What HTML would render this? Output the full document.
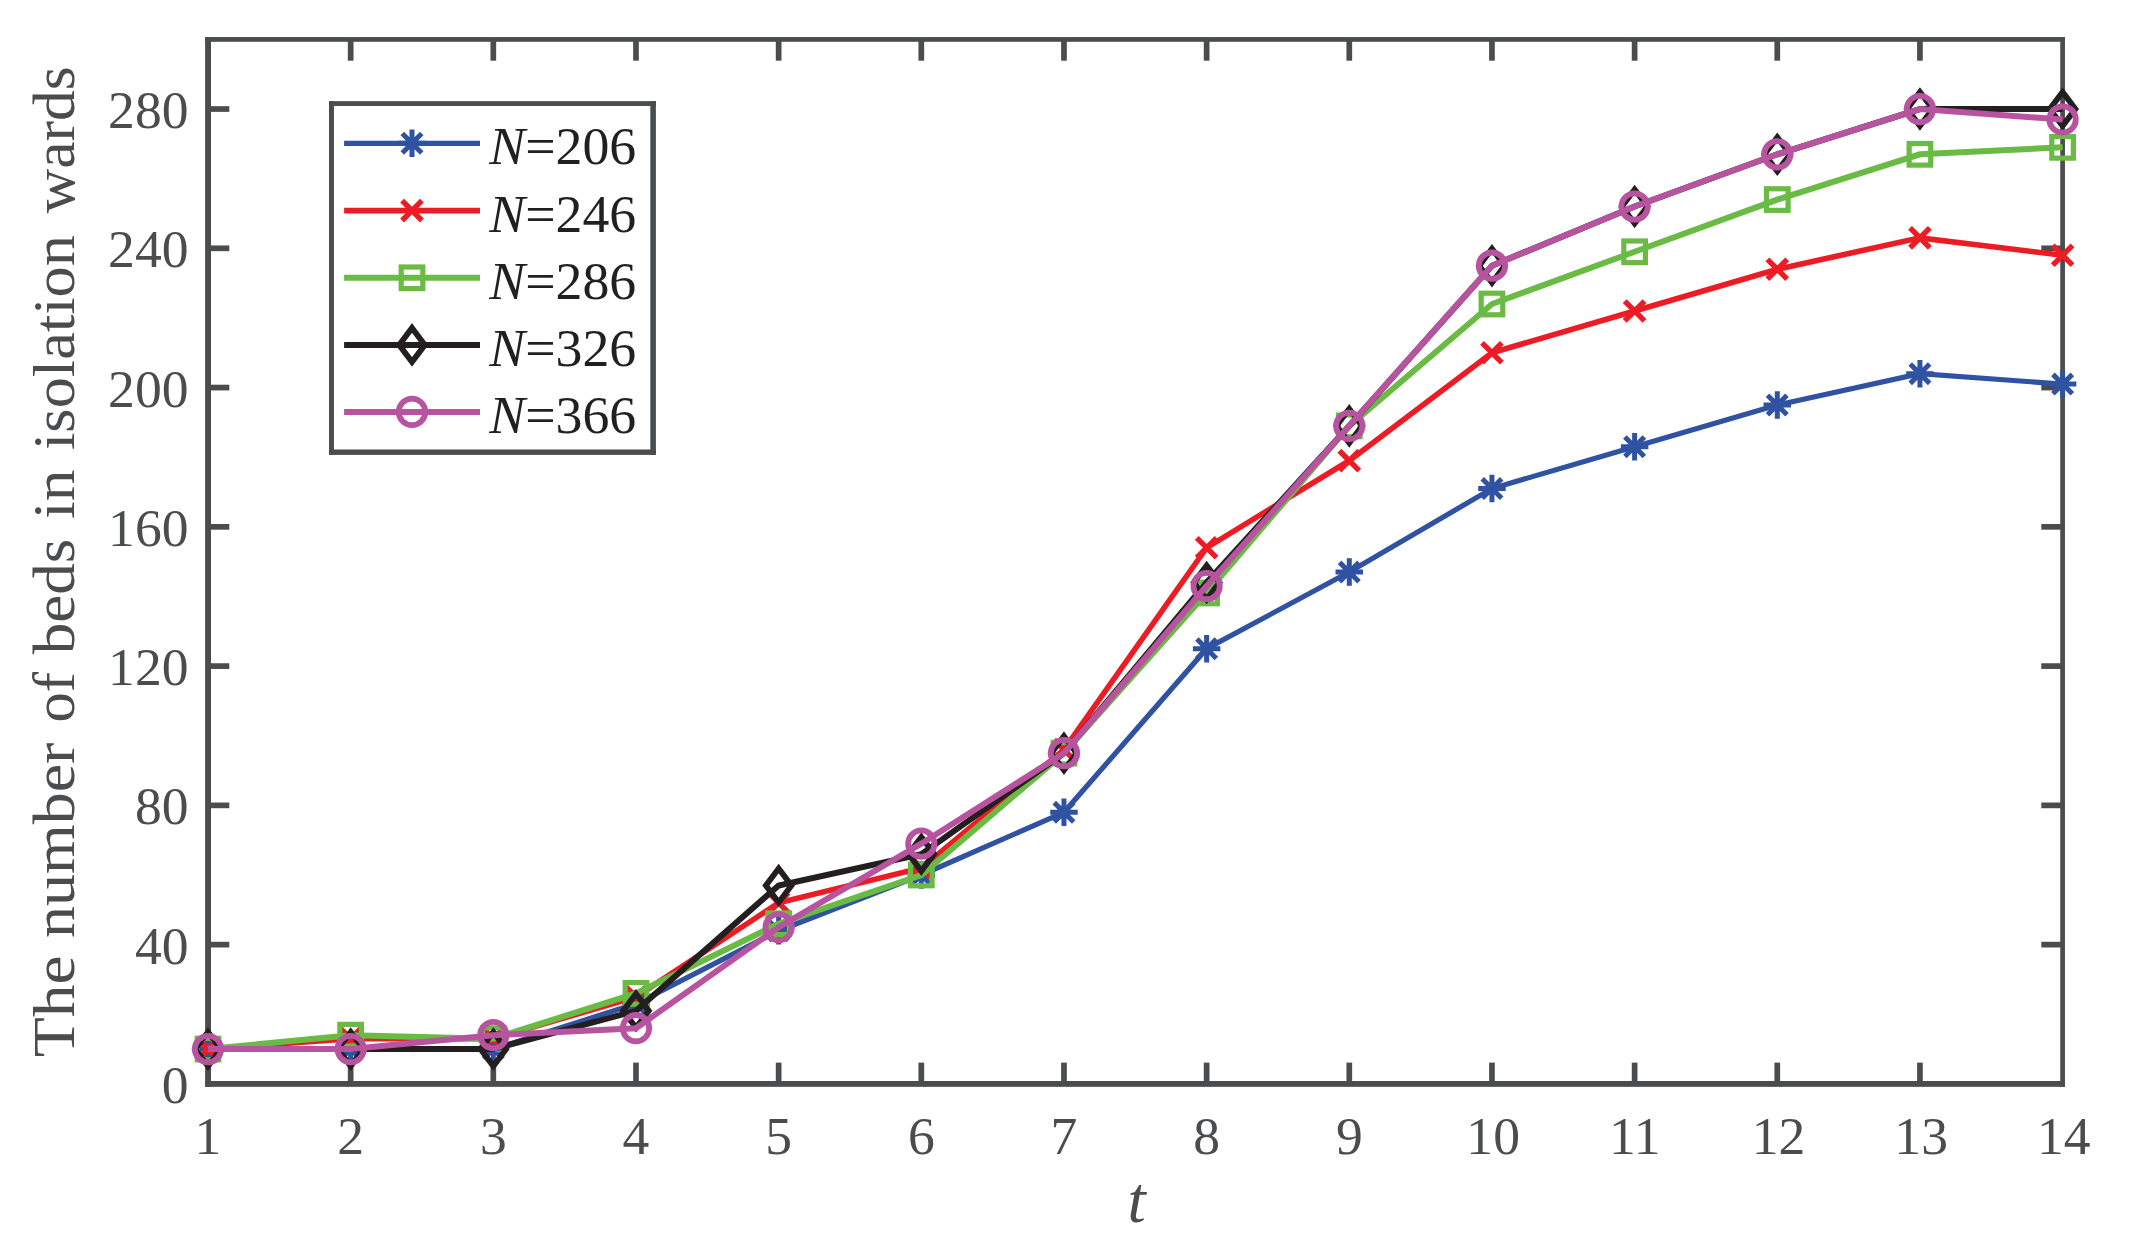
<!DOCTYPE html>
<html><head><meta charset="utf-8"><title>Beds in isolation wards</title>
<style>html,body{margin:0;padding:0;background:#fff}svg{display:block}text{font-family:"Liberation Serif","Times New Roman",serif}</style></head><body>
<svg width="2133" height="1249" viewBox="0 0 2133 1249">
<rect width="2133" height="1249" fill="#fff"/>
<g fill="#4b4c4e">
<rect x="205.1" y="37.05" width="1859.85" height="4.75"/>
<rect x="2060.25" y="37.05" width="4.7" height="1049.80"/>
<rect x="205.1" y="37.05" width="5.9" height="1049.80"/>
<rect x="205.1" y="1081.0" width="1859.85" height="5.85"/>
<rect x="347.81" y="1062.60" width="5.7" height="21.3"/>
<rect x="347.81" y="39.40" width="5.7" height="21.3"/>
<rect x="490.47" y="1062.60" width="5.7" height="21.3"/>
<rect x="490.47" y="39.40" width="5.7" height="21.3"/>
<rect x="633.13" y="1062.60" width="5.7" height="21.3"/>
<rect x="633.13" y="39.40" width="5.7" height="21.3"/>
<rect x="775.80" y="1062.60" width="5.7" height="21.3"/>
<rect x="775.80" y="39.40" width="5.7" height="21.3"/>
<rect x="918.46" y="1062.60" width="5.7" height="21.3"/>
<rect x="918.46" y="39.40" width="5.7" height="21.3"/>
<rect x="1061.12" y="1062.60" width="5.7" height="21.3"/>
<rect x="1061.12" y="39.40" width="5.7" height="21.3"/>
<rect x="1203.78" y="1062.60" width="5.7" height="21.3"/>
<rect x="1203.78" y="39.40" width="5.7" height="21.3"/>
<rect x="1346.44" y="1062.60" width="5.7" height="21.3"/>
<rect x="1346.44" y="39.40" width="5.7" height="21.3"/>
<rect x="1489.10" y="1062.60" width="5.7" height="21.3"/>
<rect x="1489.10" y="39.40" width="5.7" height="21.3"/>
<rect x="1631.77" y="1062.60" width="5.7" height="21.3"/>
<rect x="1631.77" y="39.40" width="5.7" height="21.3"/>
<rect x="1774.43" y="1062.60" width="5.7" height="21.3"/>
<rect x="1774.43" y="39.40" width="5.7" height="21.3"/>
<rect x="1917.09" y="1062.60" width="5.7" height="21.3"/>
<rect x="1917.09" y="39.40" width="5.7" height="21.3"/>
<rect x="208.00" y="941.78" width="21.3" height="5.7"/>
<rect x="2041.30" y="941.78" width="21.3" height="5.7"/>
<rect x="208.00" y="802.52" width="21.3" height="5.7"/>
<rect x="2041.30" y="802.52" width="21.3" height="5.7"/>
<rect x="208.00" y="663.25" width="21.3" height="5.7"/>
<rect x="2041.30" y="663.25" width="21.3" height="5.7"/>
<rect x="208.00" y="523.98" width="21.3" height="5.7"/>
<rect x="2041.30" y="523.98" width="21.3" height="5.7"/>
<rect x="208.00" y="384.72" width="21.3" height="5.7"/>
<rect x="2041.30" y="384.72" width="21.3" height="5.7"/>
<rect x="208.00" y="245.45" width="21.3" height="5.7"/>
<rect x="2041.30" y="245.45" width="21.3" height="5.7"/>
<rect x="208.00" y="106.18" width="21.3" height="5.7"/>
<rect x="2041.30" y="106.18" width="21.3" height="5.7"/>
</g>
<g fill="#4b4c4e" font-size="53.6">
<text x="208.00" y="1154.0" text-anchor="middle">1</text>
<text x="350.66" y="1154.0" text-anchor="middle">2</text>
<text x="493.32" y="1154.0" text-anchor="middle">3</text>
<text x="635.98" y="1154.0" text-anchor="middle">4</text>
<text x="778.65" y="1154.0" text-anchor="middle">5</text>
<text x="921.31" y="1154.0" text-anchor="middle">6</text>
<text x="1063.97" y="1154.0" text-anchor="middle">7</text>
<text x="1206.63" y="1154.0" text-anchor="middle">8</text>
<text x="1349.29" y="1154.0" text-anchor="middle">9</text>
<text x="1466.35" y="1154.0">10</text>
<text x="1609.02" y="1154.0">11</text>
<text x="1751.68" y="1154.0">12</text>
<text x="1894.34" y="1154.0">13</text>
<text x="2037.00" y="1154.0">14</text>
<text x="188.5" y="1103.00" text-anchor="end">0</text>
<text x="188.5" y="963.73" text-anchor="end">40</text>
<text x="188.5" y="824.47" text-anchor="end">80</text>
<text x="188.5" y="685.20" text-anchor="end">120</text>
<text x="188.5" y="545.93" text-anchor="end">160</text>
<text x="188.5" y="406.67" text-anchor="end">200</text>
<text x="188.5" y="267.40" text-anchor="end">240</text>
<text x="188.5" y="128.13" text-anchor="end">280</text>
</g>
<text x="1136.5" y="1222" text-anchor="middle" font-size="65.5" font-style="italic" fill="#4b4c4e">t</text>
<g fill="#4b4c4e" font-size="60" transform="translate(73.8 0) rotate(-90)">
<text x="-1057.2" y="0" textLength="101.8" lengthAdjust="spacingAndGlyphs">The</text>
<text x="-938.0" y="0" textLength="195.4" lengthAdjust="spacingAndGlyphs">number</text>
<text x="-722.4" y="0" textLength="50.4" lengthAdjust="spacingAndGlyphs">of</text>
<text x="-654.2" y="0" textLength="115.6" lengthAdjust="spacingAndGlyphs">beds</text>
<text x="-519.0" y="0" textLength="49.4" lengthAdjust="spacingAndGlyphs">in</text>
<text x="-450.0" y="0" textLength="215.0" lengthAdjust="spacingAndGlyphs">isolation</text>
<text x="-213.2" y="0" textLength="147.0" lengthAdjust="spacingAndGlyphs">wards</text>
</g>
<polyline points="208.00,1049.08 350.66,1049.08 493.32,1049.08 635.98,1003.82 778.65,930.71 921.31,875.00 1063.97,812.33 1206.63,648.69 1349.29,572.10 1491.95,488.54 1634.62,446.76 1777.28,404.98 1919.94,373.64 2062.60,384.09" fill="none" stroke="#2f52a3" stroke-width="5.2" stroke-linejoin="miter"/>
<path d="M194.25 1049.08H221.75M208.00 1035.33V1062.83M198.28 1039.36L217.72 1058.81M198.28 1058.81L217.72 1039.36" stroke="#2f52a3" stroke-width="5" fill="none"/>
<path d="M336.91 1049.08H364.41M350.66 1035.33V1062.83M340.94 1039.36L360.38 1058.81M340.94 1058.81L360.38 1039.36" stroke="#2f52a3" stroke-width="5" fill="none"/>
<path d="M479.57 1049.08H507.07M493.32 1035.33V1062.83M483.60 1039.36L503.05 1058.81M483.60 1058.81L503.05 1039.36" stroke="#2f52a3" stroke-width="5" fill="none"/>
<path d="M622.23 1003.82H649.73M635.98 990.07V1017.57M626.26 994.10L645.71 1013.54M626.26 1013.54L645.71 994.10" stroke="#2f52a3" stroke-width="5" fill="none"/>
<path d="M764.90 930.71H792.40M778.65 916.96V944.46M768.92 920.98L788.37 940.43M768.92 940.43L788.37 920.98" stroke="#2f52a3" stroke-width="5" fill="none"/>
<path d="M907.56 875.00H935.06M921.31 861.25V888.75M911.59 865.28L931.03 884.72M911.59 884.72L931.03 865.28" stroke="#2f52a3" stroke-width="5" fill="none"/>
<path d="M1050.22 812.33H1077.72M1063.97 798.58V826.08M1054.25 802.61L1073.69 822.05M1054.25 822.05L1073.69 802.61" stroke="#2f52a3" stroke-width="5" fill="none"/>
<path d="M1192.88 648.69H1220.38M1206.63 634.94V662.44M1196.91 638.97L1216.35 658.41M1196.91 658.41L1216.35 638.97" stroke="#2f52a3" stroke-width="5" fill="none"/>
<path d="M1335.54 572.10H1363.04M1349.29 558.35V585.85M1339.57 562.37L1359.01 581.82M1339.57 581.82L1359.01 562.37" stroke="#2f52a3" stroke-width="5" fill="none"/>
<path d="M1478.20 488.54H1505.70M1491.95 474.79V502.29M1482.23 478.81L1501.68 498.26M1482.23 498.26L1501.68 478.81" stroke="#2f52a3" stroke-width="5" fill="none"/>
<path d="M1620.87 446.76H1648.37M1634.62 433.01V460.51M1624.89 437.03L1644.34 456.48M1624.89 456.48L1644.34 437.03" stroke="#2f52a3" stroke-width="5" fill="none"/>
<path d="M1763.53 404.98H1791.03M1777.28 391.23V418.73M1767.55 395.25L1787.00 414.70M1767.55 414.70L1787.00 395.25" stroke="#2f52a3" stroke-width="5" fill="none"/>
<path d="M1906.19 373.64H1933.69M1919.94 359.89V387.39M1910.22 363.92L1929.66 383.36M1910.22 383.36L1929.66 363.92" stroke="#2f52a3" stroke-width="5" fill="none"/>
<path d="M2048.85 384.09H2076.35M2062.60 370.34V397.84M2052.88 374.36L2072.32 393.81M2052.88 393.81L2072.32 374.36" stroke="#2f52a3" stroke-width="5" fill="none"/>
<polyline points="208.00,1049.08 350.66,1038.64 493.32,1038.64 635.98,996.86 778.65,902.85 921.31,868.04 1063.97,749.66 1206.63,547.72 1349.29,460.68 1491.95,352.75 1634.62,310.97 1777.28,269.19 1919.94,237.86 2062.60,255.26" fill="none" stroke="#ed1c24" stroke-width="5.6" stroke-linejoin="miter"/>
<path d="M198.10 1039.18L217.90 1058.98M198.10 1058.98L217.90 1039.18" stroke="#ed1c24" stroke-width="5.4" fill="none"/>
<path d="M340.76 1028.74L360.56 1048.54M340.76 1048.54L360.56 1028.74" stroke="#ed1c24" stroke-width="5.4" fill="none"/>
<path d="M483.42 1028.74L503.22 1048.54M483.42 1048.54L503.22 1028.74" stroke="#ed1c24" stroke-width="5.4" fill="none"/>
<path d="M626.08 986.96L645.88 1006.76M626.08 1006.76L645.88 986.96" stroke="#ed1c24" stroke-width="5.4" fill="none"/>
<path d="M768.75 892.95L788.55 912.75M768.75 912.75L788.55 892.95" stroke="#ed1c24" stroke-width="5.4" fill="none"/>
<path d="M911.41 858.14L931.21 877.94M911.41 877.94L931.21 858.14" stroke="#ed1c24" stroke-width="5.4" fill="none"/>
<path d="M1054.07 739.76L1073.87 759.56M1054.07 759.56L1073.87 739.76" stroke="#ed1c24" stroke-width="5.4" fill="none"/>
<path d="M1196.73 537.82L1216.53 557.62M1196.73 557.62L1216.53 537.82" stroke="#ed1c24" stroke-width="5.4" fill="none"/>
<path d="M1339.39 450.78L1359.19 470.58M1339.39 470.58L1359.19 450.78" stroke="#ed1c24" stroke-width="5.4" fill="none"/>
<path d="M1482.05 342.85L1501.85 362.65M1482.05 362.65L1501.85 342.85" stroke="#ed1c24" stroke-width="5.4" fill="none"/>
<path d="M1624.72 301.07L1644.52 320.87M1624.72 320.87L1644.52 301.07" stroke="#ed1c24" stroke-width="5.4" fill="none"/>
<path d="M1767.38 259.29L1787.18 279.09M1767.38 279.09L1787.18 259.29" stroke="#ed1c24" stroke-width="5.4" fill="none"/>
<path d="M1910.04 227.96L1929.84 247.76M1910.04 247.76L1929.84 227.96" stroke="#ed1c24" stroke-width="5.4" fill="none"/>
<path d="M2052.70 245.36L2072.50 265.16M2052.70 265.16L2072.50 245.36" stroke="#ed1c24" stroke-width="5.4" fill="none"/>
<polyline points="208.00,1049.08 350.66,1035.16 493.32,1038.64 635.98,993.38 778.65,923.74 921.31,875.00 1063.97,753.14 1206.63,592.99 1349.29,425.87 1491.95,304.01 1634.62,251.78 1777.28,199.56 1919.94,154.30 2062.60,147.33" fill="none" stroke="#6abb44" stroke-width="6.0" stroke-linejoin="miter"/>
<rect x="197.20" y="1038.28" width="21.6" height="21.6" stroke="#6abb44" stroke-width="5.2" fill="none"/>
<rect x="339.86" y="1024.36" width="21.6" height="21.6" stroke="#6abb44" stroke-width="5.2" fill="none"/>
<rect x="482.52" y="1027.84" width="21.6" height="21.6" stroke="#6abb44" stroke-width="5.2" fill="none"/>
<rect x="625.18" y="982.58" width="21.6" height="21.6" stroke="#6abb44" stroke-width="5.2" fill="none"/>
<rect x="767.85" y="912.94" width="21.6" height="21.6" stroke="#6abb44" stroke-width="5.2" fill="none"/>
<rect x="910.51" y="864.20" width="21.6" height="21.6" stroke="#6abb44" stroke-width="5.2" fill="none"/>
<rect x="1053.17" y="742.34" width="21.6" height="21.6" stroke="#6abb44" stroke-width="5.2" fill="none"/>
<rect x="1195.83" y="582.19" width="21.6" height="21.6" stroke="#6abb44" stroke-width="5.2" fill="none"/>
<rect x="1338.49" y="415.07" width="21.6" height="21.6" stroke="#6abb44" stroke-width="5.2" fill="none"/>
<rect x="1481.15" y="293.21" width="21.6" height="21.6" stroke="#6abb44" stroke-width="5.2" fill="none"/>
<rect x="1623.82" y="240.98" width="21.6" height="21.6" stroke="#6abb44" stroke-width="5.2" fill="none"/>
<rect x="1766.48" y="188.76" width="21.6" height="21.6" stroke="#6abb44" stroke-width="5.2" fill="none"/>
<rect x="1909.14" y="143.50" width="21.6" height="21.6" stroke="#6abb44" stroke-width="5.2" fill="none"/>
<rect x="2051.80" y="136.53" width="21.6" height="21.6" stroke="#6abb44" stroke-width="5.2" fill="none"/>
<polyline points="208.00,1049.08 350.66,1049.08 493.32,1049.08 635.98,1010.79 778.65,885.45 921.31,854.11 1063.97,753.14 1206.63,582.54 1349.29,425.87 1491.95,265.71 1634.62,206.52 1777.28,154.30 1919.94,109.03 2062.60,109.03" fill="none" stroke="#231f20" stroke-width="6.0" stroke-linejoin="miter"/>
<path d="M208.00 1032.08L220.80 1049.08L208.00 1066.08L195.20 1049.08Z" stroke="#231f20" stroke-width="5.8" stroke-miterlimit="10" fill="none"/>
<path d="M350.66 1032.08L363.46 1049.08L350.66 1066.08L337.86 1049.08Z" stroke="#231f20" stroke-width="5.8" stroke-miterlimit="10" fill="none"/>
<path d="M493.32 1032.08L506.12 1049.08L493.32 1066.08L480.52 1049.08Z" stroke="#231f20" stroke-width="5.8" stroke-miterlimit="10" fill="none"/>
<path d="M635.98 993.79L648.78 1010.79L635.98 1027.79L623.18 1010.79Z" stroke="#231f20" stroke-width="5.8" stroke-miterlimit="10" fill="none"/>
<path d="M778.65 868.45L791.45 885.45L778.65 902.45L765.85 885.45Z" stroke="#231f20" stroke-width="5.8" stroke-miterlimit="10" fill="none"/>
<path d="M921.31 837.11L934.11 854.11L921.31 871.11L908.51 854.11Z" stroke="#231f20" stroke-width="5.8" stroke-miterlimit="10" fill="none"/>
<path d="M1063.97 736.14L1076.77 753.14L1063.97 770.14L1051.17 753.14Z" stroke="#231f20" stroke-width="5.8" stroke-miterlimit="10" fill="none"/>
<path d="M1206.63 565.54L1219.43 582.54L1206.63 599.54L1193.83 582.54Z" stroke="#231f20" stroke-width="5.8" stroke-miterlimit="10" fill="none"/>
<path d="M1349.29 408.87L1362.09 425.87L1349.29 442.87L1336.49 425.87Z" stroke="#231f20" stroke-width="5.8" stroke-miterlimit="10" fill="none"/>
<path d="M1491.95 248.71L1504.75 265.71L1491.95 282.71L1479.15 265.71Z" stroke="#231f20" stroke-width="5.8" stroke-miterlimit="10" fill="none"/>
<path d="M1634.62 189.52L1647.42 206.52L1634.62 223.52L1621.82 206.52Z" stroke="#231f20" stroke-width="5.8" stroke-miterlimit="10" fill="none"/>
<path d="M1777.28 137.30L1790.08 154.30L1777.28 171.30L1764.48 154.30Z" stroke="#231f20" stroke-width="5.8" stroke-miterlimit="10" fill="none"/>
<path d="M1919.94 92.03L1932.74 109.03L1919.94 126.03L1907.14 109.03Z" stroke="#231f20" stroke-width="5.8" stroke-miterlimit="10" fill="none"/>
<path d="M2062.60 92.03L2075.40 109.03L2062.60 126.03L2049.80 109.03Z" stroke="#231f20" stroke-width="5.8" stroke-miterlimit="10" fill="none"/>
<polyline points="208.00,1049.08 350.66,1049.08 493.32,1035.16 635.98,1028.19 778.65,927.23 921.31,843.67 1063.97,753.14 1206.63,586.02 1349.29,425.87 1491.95,265.71 1634.62,206.52 1777.28,154.30 1919.94,109.03 2062.60,119.48" fill="none" stroke="#b8549f" stroke-width="6.0" stroke-linejoin="miter"/>
<circle cx="208.00" cy="1049.08" r="13.2" stroke="#b8549f" stroke-width="5.8" fill="none"/>
<circle cx="350.66" cy="1049.08" r="13.2" stroke="#b8549f" stroke-width="5.8" fill="none"/>
<circle cx="493.32" cy="1035.16" r="13.2" stroke="#b8549f" stroke-width="5.8" fill="none"/>
<circle cx="635.98" cy="1028.19" r="13.2" stroke="#b8549f" stroke-width="5.8" fill="none"/>
<circle cx="778.65" cy="927.23" r="13.2" stroke="#b8549f" stroke-width="5.8" fill="none"/>
<circle cx="921.31" cy="843.67" r="13.2" stroke="#b8549f" stroke-width="5.8" fill="none"/>
<circle cx="1063.97" cy="753.14" r="13.2" stroke="#b8549f" stroke-width="5.8" fill="none"/>
<circle cx="1206.63" cy="586.02" r="13.2" stroke="#b8549f" stroke-width="5.8" fill="none"/>
<circle cx="1349.29" cy="425.87" r="13.2" stroke="#b8549f" stroke-width="5.8" fill="none"/>
<circle cx="1491.95" cy="265.71" r="13.2" stroke="#b8549f" stroke-width="5.8" fill="none"/>
<circle cx="1634.62" cy="206.52" r="13.2" stroke="#b8549f" stroke-width="5.8" fill="none"/>
<circle cx="1777.28" cy="154.30" r="13.2" stroke="#b8549f" stroke-width="5.8" fill="none"/>
<circle cx="1919.94" cy="109.03" r="13.2" stroke="#b8549f" stroke-width="5.8" fill="none"/>
<circle cx="2062.60" cy="119.48" r="13.2" stroke="#b8549f" stroke-width="5.8" fill="none"/>
<rect x="329" y="101.15" width="326.90" height="353.75" fill="#fff"/>
<g fill="#4b4c4e"><rect x="329" y="101.15" width="4.95" height="353.75"/><rect x="650.3" y="101.15" width="5.6" height="353.75"/><rect x="329" y="101.15" width="326.90" height="4.8"/><rect x="329" y="449.5" width="326.90" height="5.4"/></g>
<path d="M344.1 143.3H480" stroke="#2f52a3" stroke-width="5.2" fill="none"/>
<path d="M398.25 143.30H425.75M412.00 129.55V157.05M402.28 133.58L421.72 153.02M402.28 153.02L421.72 133.58" stroke="#2f52a3" stroke-width="5" fill="none"/>
<text x="489.3" y="164.2" font-size="53.8" fill="#231f20"><tspan font-style="italic">N</tspan>=206</text>
<path d="M344.1 210.6H480" stroke="#ed1c24" stroke-width="5.6" fill="none"/>
<path d="M402.10 200.70L421.90 220.50M402.10 220.50L421.90 200.70" stroke="#ed1c24" stroke-width="5.4" fill="none"/>
<text x="489.3" y="231.5" font-size="53.8" fill="#231f20"><tspan font-style="italic">N</tspan>=246</text>
<path d="M344.1 277.8H480" stroke="#6abb44" stroke-width="6.0" fill="none"/>
<rect x="401.20" y="267.00" width="21.6" height="21.6" stroke="#6abb44" stroke-width="5.2" fill="none"/>
<text x="489.3" y="298.7" font-size="53.8" fill="#231f20"><tspan font-style="italic">N</tspan>=286</text>
<path d="M344.1 344.9H480" stroke="#231f20" stroke-width="6.0" fill="none"/>
<path d="M412.00 327.90L424.80 344.90L412.00 361.90L399.20 344.90Z" stroke="#231f20" stroke-width="5.8" stroke-miterlimit="10" fill="none"/>
<text x="489.3" y="365.8" font-size="53.8" fill="#231f20"><tspan font-style="italic">N</tspan>=326</text>
<path d="M344.1 411.9H480" stroke="#b8549f" stroke-width="6.0" fill="none"/>
<circle cx="412.00" cy="411.90" r="13.2" stroke="#b8549f" stroke-width="5.8" fill="none"/>
<text x="489.3" y="432.8" font-size="53.8" fill="#231f20"><tspan font-style="italic">N</tspan>=366</text>
</svg></body></html>
